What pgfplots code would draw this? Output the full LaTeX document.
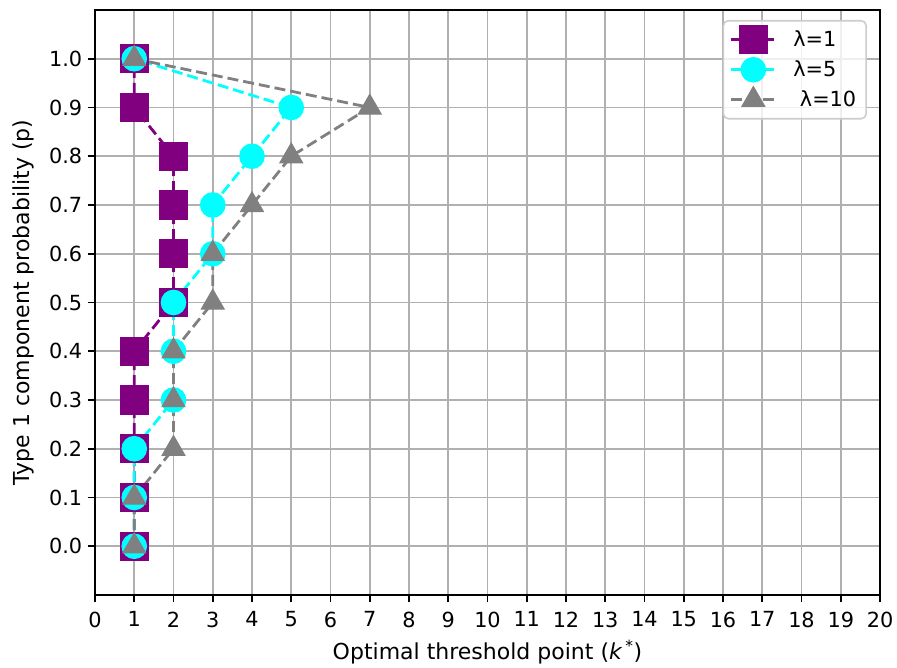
\documentclass[border=0pt]{standalone}
\usepackage{fontspec}
\setmainfont{DejaVu Sans}
\usepackage{pgfplots}
\pgfplotsset{compat=1.18}
\definecolor{mplpurple}{RGB}{128,0,128}
\definecolor{mplcyan}{RGB}{0,255,255}
\definecolor{mplgray}{RGB}{128,128,128}
\definecolor{gridgray}{RGB}{176,176,176}
\definecolor{framegray}{RGB}{204,204,204}
\begin{document}
\begin{tikzpicture}
\begin{axis}[
  scale only axis,
  width=785pt, height=585pt,
  xmin=0, xmax=20, ymin=-0.1, ymax=1.1,
  xtick={0,1,...,20},
  ytick={0,0.1,0.2,0.3,0.4,0.5,0.6,0.7,0.8,0.9,1.0},
  /pgf/number format/assume math mode=true,
  tick label style={font=\fontsize{20.8}{24}\selectfont},
  xticklabel style={yshift=-6pt},
  yticklabel style={xshift=-2pt, /pgf/number format/.cd, fixed, fixed zerofill, precision=1},
  label style={font=\fontsize{22}{26}\selectfont},
  xlabel={Optimal threshold point ({\itshape k}\,\textsuperscript{*})},
  ylabel={Type 1 component probability (p)},
  xlabel style={yshift=-6pt},
  ylabel style={yshift=8pt},
  grid=major,
  major grid style={gridgray, line width=1.6pt},
  tick align=outside,
  major tick length=7.3pt,
  tick style={black, line width=1.6pt},
  axis line style={black, line width=1.6pt},
  xtick pos=bottom, ytick pos=left,
  legend cell align=left,
  legend style={font=\fontsize{20.8}{24}\selectfont, draw=framegray, line width=1.6pt,
    rounded corners=5pt, fill=white, fill opacity=0.8, text opacity=1,
    at={(0.9834,0.983)}, anchor=north east, inner sep=8pt, row sep=8pt},
  legend image code/.code={
    \begin{scope}[overlay]
    \draw[fill opacity=1, draw opacity=1, mark repeat=2, mark phase=2]
      plot coordinates {(0pt,0pt) (22pt,0pt) (44pt,0pt)};
    \end{scope}
    \path[draw=none, fill=none] (0pt,-11pt) rectangle (60pt,11pt);},
  every axis plot/.append style={line width=2.8pt, dash pattern=on 11pt off 5pt},
]
\addplot[mplpurple, mark=square*, mark size=14.2pt,
  mark options={solid, line width=1pt, draw=mplpurple, fill=mplpurple}]
  coordinates {(1,0.0) (1,0.1) (1,0.2) (1,0.3) (1,0.4) (2,0.5) (2,0.6) (2,0.7) (2,0.8) (1,0.9) (1,1.0)};
\addlegendentry{λ=1}
\addplot[mplcyan, mark=*, mark size=12.3pt,
  mark options={solid, line width=1pt, draw=mplcyan, fill=mplcyan}]
  coordinates {(1,0.0) (1,0.1) (1,0.2) (2,0.3) (2,0.4) (2,0.5) (3,0.6) (3,0.7) (4,0.8) (5,0.9) (1,1.0)};
\addlegendentry{λ=5}
\addplot[mplgray, mark=triangle*, mark size=13.2pt,
  mark options={solid, line width=1pt, draw=mplgray, fill=mplgray}]
  coordinates {(1,0.0) (1,0.1) (2,0.2) (2,0.3) (2,0.4) (3,0.5) (3,0.6) (4,0.7) (5,0.8) (7,0.9) (1,1.0)};
\addlegendentry{\ λ=10}
\end{axis}
\path (current axis.south west) ++(-95pt,-73pt) coordinate (bbsw);
\path (current axis.north east) ++(17pt,10pt) coordinate (bbne);
\useasboundingbox (bbsw) rectangle (bbne);
\end{tikzpicture}
\end{document}
